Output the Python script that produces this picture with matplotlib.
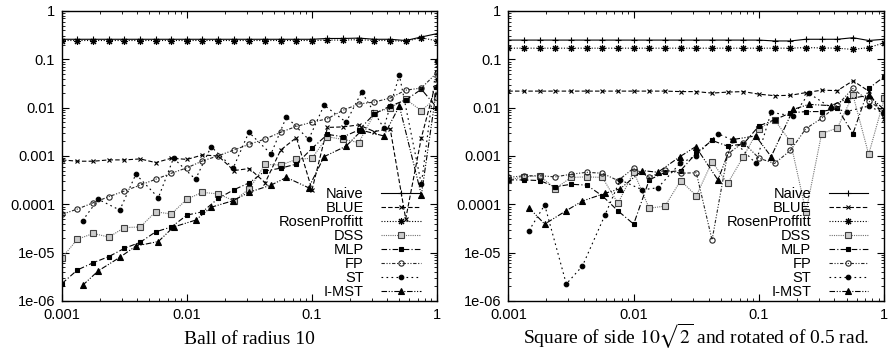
import numpy as np
import matplotlib.pyplot as plt
from matplotlib.ticker import LogLocator, NullFormatter, FixedLocator, FixedFormatter

plt.rcParams['font.family'] = ['Liberation Sans', 'DejaVu Sans']
plt.rcParams['mathtext.fontset'] = 'stix'

# x grid used by most methods (1/8 decade steps)
x_grid = [0.001, 0.00133, 0.00178, 0.00237, 0.00316, 0.00422, 0.00562, 0.0075,
          0.01, 0.0133, 0.0178, 0.0237, 0.0316, 0.0422, 0.0562, 0.075,
          0.1, 0.133, 0.178, 0.237, 0.316, 0.422, 0.562, 0.75, 1.0]
# x grid for ST and I-MST (powers of two and 3/4 of them)
x_pow2 = [0.00146, 0.00195, 0.0029, 0.0039, 0.0059, 0.0078, 0.0117, 0.0156, 0.0234, 0.03125,
          0.047, 0.0625, 0.094, 0.125, 0.1875, 0.25, 0.375, 0.5, 0.75, 1.0]

# ---- left panel: ball of radius 10
naive_l = [0.26, 0.26, 0.26, 0.26, 0.26, 0.26, 0.26, 0.26, 0.26, 0.26, 0.26, 0.26, 0.26,
           0.26, 0.26, 0.26, 0.26, 0.27, 0.27, 0.275, 0.26, 0.26, 0.245, 0.29, 0.34]
rp_l = [0.245, 0.245, 0.245, 0.245, 0.245, 0.245, 0.245, 0.245, 0.245, 0.245, 0.245, 0.245, 0.245,
        0.245, 0.245, 0.245, 0.245, 0.25, 0.25, 0.255, 0.245, 0.245, 0.235, 0.28, 0.24]
blue_l = [8.3e-4, 7.8e-4, 7.8e-4, 8.3e-4, 8.3e-4, 8.7e-4, 7.3e-4, 9e-4, 8.5e-4, 1.05e-3,
          1.0e-3, 5e-4, 5.5e-4, 2.8e-4, 1.33e-3, 2.4e-3, 2.0e-4, 3.9e-3, 4.0e-3, 4.4e-3,
          3.2e-3, 3.7e-3, 5e-5, 2.4e-3, 4.0e-2]
dss_l = [7.9e-6, 1.9e-5, 2.5e-5, 2.1e-5, 3.3e-5, 3.4e-5, 7e-5, 6.3e-5, 1.29e-4, 1.77e-4,
         1.64e-4, 1.19e-4, 2.1e-4, 6.7e-4, 6.5e-4, 8.5e-4, 9e-4, 2.5e-3, 2.2e-3, 1.9e-3,
         7.6e-3, 1.0e-2, 1.49e-2, 8.7e-3, 1.64e-2]
mlp_l = [2.3e-6, 4.4e-6, 6.2e-6, 8.3e-6, 1.23e-5, 1.64e-5, 2.7e-5, 3.4e-5, 6e-5, 7e-5,
         1.33e-4, 2e-4, 2.8e-4, 4.9e-4, 5.6e-4, 6.8e-4, 1.44e-3, 2.8e-3, 2.5e-3, 3.45e-3,
         7.5e-3, 1.08e-2, 1.44e-2, 2.4e-2, 1.0e-2]
fp_l = [6.2e-5, 8.0e-5, 1.08e-4, 1.44e-4, 1.89e-4, 2.5e-4, 3.3e-4, 4.4e-4, 5.7e-4, 7.9e-4,
        1.01e-3, 1.33e-3, 1.75e-3, 2.25e-3, 3.1e-3, 4.1e-3, 5.0e-3, 5.9e-3, 8.9e-3, 1.19e-2,
        1.31e-2, 1.58e-2, 2.3e-2, 2.55e-2, 5.3e-2]
st_l = [4.6e-5, 1.27e-4, 7.6e-5, 4.2e-4, 1.37e-4, 9e-4, 3.3e-4, 1.56e-3, 5.6e-4, 3.1e-3,
        1.1e-3, 6.5e-3, 2.2e-3, 1.13e-2, 5e-3, 2.1e-2, 3.8e-3, 4.7e-2, 2.6e-4, 9.4e-2]
imst_l = [2.1e-6, 4.2e-6, 8e-6, 1.37e-5, 1.7e-5, 3.4e-5, 4.7e-5, 8.7e-5, 1.19e-4, 1.77e-4,
          2.5e-4, 3.6e-4, 2.2e-4, 9.7e-4, 1.6e-3, 3.4e-3, 2.6e-3, 1.08e-2, 1.56e-4, 2.8e-2]

# ---- right panel: rotated square
naive_r = [0.25, 0.25, 0.25, 0.25, 0.25, 0.25, 0.25, 0.25, 0.25, 0.25, 0.25, 0.25, 0.25,
           0.25, 0.25, 0.25, 0.25, 0.24, 0.24, 0.26, 0.26, 0.26, 0.28, 0.245, 0.26]
rp_r = [0.17, 0.17, 0.17, 0.17, 0.17, 0.17, 0.17, 0.17, 0.17, 0.17, 0.17, 0.17, 0.17,
        0.17, 0.17, 0.17, 0.17, 0.17, 0.17, 0.175, 0.172, 0.17, 0.16, 0.175, 0.22]
blue_r = [0.022, 0.022, 0.022, 0.022, 0.022, 0.022, 0.022, 0.022, 0.022, 0.022, 0.022, 0.0215,
          0.0215, 0.020, 0.021, 0.0215, 0.019, 0.0177, 0.018, 0.0205, 0.023, 0.0225, 0.036,
          0.022, 0.0058]
dss_r = [3.2e-4, 3.7e-4, 3.9e-4, 2.1e-4, 3.6e-4, 3.7e-4, 3.6e-4, 1.05e-4, 4.7e-4, 8.3e-5,
         9.2e-5, 3.1e-4, 1.5e-4, 7.6e-4, 2.7e-4, 9.7e-4, 3.7e-3, 5.6e-3, 2.0e-3, 7e-5,
         2.9e-3, 3.8e-3, 1.83e-2, 1.08e-3, 1.56e-2]
mlp_r = [3.2e-4, 3.2e-4, 3.1e-4, 2.3e-4, 2.6e-4, 2.5e-4, 1.5e-4, 7.3e-5, 3.9e-5, 3.2e-4,
         4.6e-4, 5e-4, 1.15e-3, 2.1e-3, 1.6e-3, 1.77e-3, 4.2e-3, 5.6e-3, 7.8e-3, 8.3e-3,
         8.3e-3, 9.7e-3, 2.9e-3, 2.5e-2, 4.4e-2]
fp_r = [3.6e-4, 3.9e-4, 3.9e-4, 3.7e-4, 4.2e-4, 4.6e-4, 4.4e-4, 3.1e-4, 5.6e-4, 3.6e-4,
        5.1e-4, 4.4e-4, 4.5e-4, 1.83e-5, 1.1e-3, 1.9e-3, 9e-4, 7e-4, 1.3e-3, 3.7e-3,
        6e-3, 1.13e-2, 2.5e-2, 1.37e-2, 8.3e-3]
st_r = [2.85e-5, 9.7e-5, 2.25e-6, 5.3e-6, 6e-5, 3.2e-4, 2.0e-4, 2.2e-4, 7e-4, 1.0e-3,
        2.9e-3, 2.1e-3, 7.1e-4, 8e-3, 6.7e-3, 1.98e-2, 1e-2, 8.3e-3, 1.08e-2, 7.6e-3]
imst_r = [8.5e-5, 3.9e-5, 7.4e-5, 1.17e-4, 1.69e-4, 2.1e-4, 5e-4, 4.6e-4, 9.7e-4, 1.56e-3,
          3.2e-4, 2.2e-3, 2.6e-3, 9.7e-4, 9.2e-3, 1.17e-2, 1.1e-2, 1.5e-2, 1.8e-2, 9e-3]

names = ['Naive', 'BLUE', 'RosenProffitt', 'DSS', 'MLP', 'FP', 'ST', 'I-MST']
ytick_vals = [1e-6, 1e-5, 1e-4, 1e-3, 1e-2, 1e-1, 1]
ytick_labels = ['1e-06', '1e-05', '0.0001', '0.001', '0.01', '0.1', '1']
xtick_vals = [0.001, 0.01, 0.1, 1]
xtick_labels = ['0.001', '0.01', '0.1', '1']

styles = {
    'Naive': dict(ls='-', marker='+', ms=5, color='k'),
    'BLUE': dict(ls=(0, (4, 2)), marker='x', ms=3.5, color='k'),
    'RosenProffitt': dict(ls=(0, (1, 1.5)), marker=(8, 2, 0), ms=5, color='k'),
    'DSS': dict(ls=(0, (1, 1)), marker='s', ms=3.8, color='0.45', mfc='0.8', mec='0.25'),
    'MLP': dict(ls=(0, (5, 2, 1, 2)), marker='s', ms=3.3, color='k'),
    'FP': dict(ls=(0, (3, 1.5, 1, 1.5, 1, 1.5)), marker='o', ms=3.8, color='0.15', mfc='none'),
    'ST': dict(ls=(0, (1.5, 3)), marker='o', ms=3.3, color='k'),
    'I-MST': dict(ls=(0, (5, 1.5, 1, 1.5, 1, 1.5)), marker='^', ms=3.8, color='k'),
}


def draw_panel(ax, series, xlabel):
    for name, (xs, ys) in zip(names, series):
        ax.plot(xs, ys, label=name, lw=0.8, mew=0.8, **styles[name])
    ax.set_xscale('log')
    ax.set_yscale('log')
    ax.set_xlim(0.001, 1)
    ax.set_ylim(1e-6, 1)
    ax.yaxis.set_major_locator(FixedLocator(ytick_vals))
    ax.yaxis.set_major_formatter(FixedFormatter(ytick_labels))
    ax.xaxis.set_major_locator(FixedLocator(xtick_vals))
    ax.xaxis.set_major_formatter(FixedFormatter(xtick_labels))
    ax.xaxis.set_minor_locator(LogLocator(base=10, subs=np.arange(2, 10), numticks=20))
    ax.yaxis.set_minor_locator(LogLocator(base=10, subs=np.arange(2, 10), numticks=20))
    ax.xaxis.set_minor_formatter(NullFormatter())
    ax.yaxis.set_minor_formatter(NullFormatter())
    ax.tick_params(which='both', direction='in', top=True, right=True, labelsize=10.5)
    ax.tick_params(which='major', length=5, width=0.8, pad=5)
    ax.tick_params(which='minor', length=2.5, width=0.6)
    for sp in ax.spines.values():
        sp.set_linewidth(1.0)
    ax.set_xlabel(xlabel, fontsize=14, family='Liberation Serif', va='baseline')
    ax.xaxis.set_label_coords(0.5, -0.148)

    # markerfirst=False right-aligns the labels against the sample lines
    ax.legend(loc='lower right', bbox_to_anchor=(0.98, -0.022), frameon=False,
              markerfirst=False, fontsize=10.5, handlelength=2.7, handletextpad=1.2,
              labelspacing=0.0, borderaxespad=0.2)


fig = plt.figure(figsize=(8.92, 3.5), dpi=100)
ax1 = fig.add_axes([0.0695, 0.14, 0.4204, 0.8286])
ax2 = fig.add_axes([0.5699, 0.14, 0.4215, 0.8286])

left = [(x_grid, naive_l), (x_grid, blue_l), (x_grid, rp_l), (x_grid, dss_l),
        (x_grid, mlp_l), (x_grid, fp_l), (x_pow2, st_l), (x_pow2, imst_l)]
right = [(x_grid, naive_r), (x_grid, blue_r), (x_grid, rp_r), (x_grid, dss_r),
         (x_grid, mlp_r), (x_grid, fp_r), (x_pow2, st_r), (x_pow2, imst_r)]

draw_panel(ax1, left, 'Ball of radius 10')
draw_panel(ax2, right, r'Square of side $10\sqrt{2}$ and rotated of 0.5 rad.')

fig.savefig('out.png', dpi=100)
